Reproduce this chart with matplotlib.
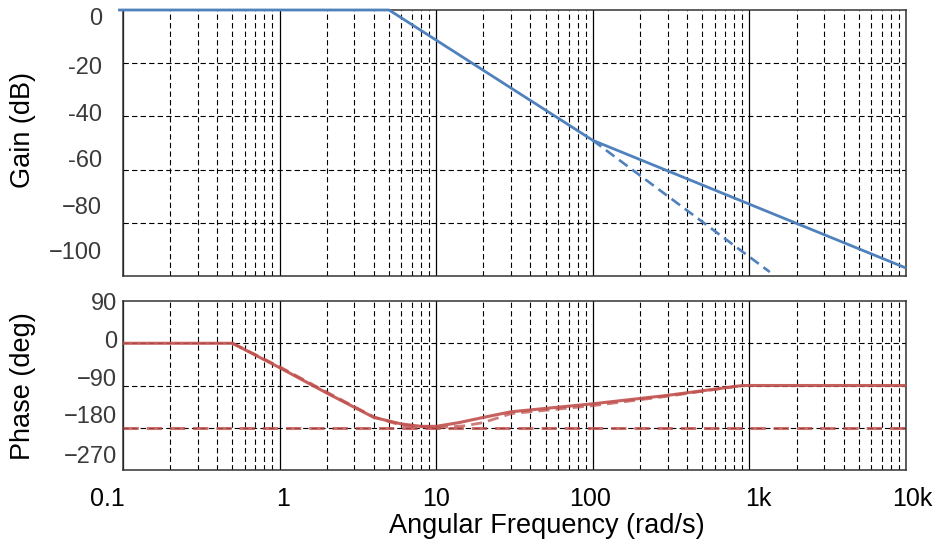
import matplotlib
matplotlib.use("Agg")
import matplotlib.pyplot as plt
from matplotlib.ticker import LogLocator, FixedLocator, NullFormatter
from matplotlib.transforms import ScaledTranslation

plt.rcParams['font.family'] = ['Liberation Sans', 'DejaVu Sans']

# === data ===
gain_w = [0.093, 5, 100, 1000, 10000]
gain_db = [0, 0, -49, -73, -97]

gain_asym_w = [100, 1350]
gain_asym_db = [-49, -98.5]

phase_w = [0.1, 0.5, 1, 2, 4, 6, 8, 10, 14, 20, 30, 100, 300, 900, 10000]
phase_deg = [0, 0, -52, -106, -158, -172, -177, -177, -169, -158, -146, -129, -111, -90, -90]

phase_asym_w = [0.5, 1, 2, 4, 6, 10, 15, 20, 30, 100, 300, 900]
phase_asym_deg = [0, -50, -104, -157, -175, -180, -176, -169, -150, -133, -113, -90]

phase_ref_w = [0.1, 10000]
phase_ref_deg = [-180, -180]

x_ticks = [0.1, 1, 10, 100, 1000, 10000]
x_labels = ["0.1", "1", "10", "100", "1k", "10k"]

gain_grid = [-80, -60, -40, -20]
gain_tick_pos = [-2.6, -20.8, -38.5, -55.8, -73.6, -90.6]
gain_tick_labels = ["0", "-20", "-40", "-60", "\u221280", "\u2212100"]

phase_grid = [-180, -90, 0]
phase_tick_pos = [90, 8.6, -74, -152, -236]
phase_tick_labels = ["90", "0", "\u221290", "\u2212180", "\u2212270"]
# ================================

blue = "#4f81bd"
red = "#c0504d"
dash_grid = (0, (4.8, 2.9))

fig = plt.figure(figsize=(9.36, 5.46), dpi=100)
W, H = 936, 546
ax1 = fig.add_axes([123 / W, 1 - 276 / H, 783 / W, 266 / H])
ax2 = fig.add_axes([123 / W, 1 - 470 / H, 783 / W, 169 / H])


def setup(ax, grid_vals, tick_pos, tick_labels, ypad):
    ax.set_xscale('log')
    ax.set_xlim(0.1, 1e4)
    ax.set_xticks(x_ticks)
    ax.xaxis.set_minor_locator(LogLocator(base=10, subs=range(2, 10)))
    ax.xaxis.set_minor_formatter(NullFormatter())
    ax.set_yticks(tick_pos, labels=tick_labels)
    ax.yaxis.set_minor_locator(FixedLocator(grid_vals))
    ax.grid(True, which='major', axis='x', color='black', ls='-', lw=0.9)
    ax.grid(True, which='minor', axis='both', color='black', ls=dash_grid, lw=0.8)
    ax.grid(False, which='major', axis='y')
    ax.tick_params(which='both', length=0)
    ax.tick_params(axis='y', labelsize=17, labelcolor='#3a3a3a', pad=ypad)
    for s in ax.spines.values():
        s.set_color('#333333')
        s.set_linewidth(1.1)
    ax.set_axisbelow(True)


setup(ax1, gain_grid, gain_tick_pos, gain_tick_labels, 15)
ax1.set_ylim(-100, 0)
ax1.tick_params(axis='x', labelbottom=False)

ax1.plot(gain_w, gain_db, color=blue, lw=2.0, solid_capstyle='butt', clip_on=False, zorder=3)
ax1.plot(gain_asym_w, gain_asym_db, color=blue, lw=1.9, ls=(0, (4, 2.2)), clip_on=False, zorder=3)

setup(ax2, phase_grid, phase_tick_pos, phase_tick_labels, 4.3)
ax2.set_ylim(-270, 90)
ax2.set_xticks(x_ticks, labels=x_labels)
ax2.tick_params(axis='x', labelsize=18, labelcolor='black', pad=12)

# small horizontal nudges of the frequency labels, in pixels
offsets = [-16, 3, 0, -3, 9, 6]
for lab, dx in zip(ax2.get_xticklabels(), offsets):
    lab.set_transform(lab.get_transform() + ScaledTranslation(dx / 100, 0, fig.dpi_scale_trans))

ax2.plot(phase_ref_w, phase_ref_deg, color=red, lw=2.2, alpha=0.8, ls=(0, (5, 2.6)), zorder=3)
ax2.plot(phase_asym_w, phase_asym_deg, color=red, lw=2.0, alpha=0.75, ls=(0, (4, 2.2)), zorder=3)
ax2.plot(phase_w, phase_deg, color=red, lw=2.2, alpha=0.9, zorder=4)

fig.text(23 / W, 1 - 130 / H, "Gain (dB)", rotation=90, ha='center', va='center', fontsize=19.5)
fig.text(23 / W, 1 - 386 / H, "Phase (deg)", rotation=90, ha='center', va='center', fontsize=19.5)
fig.text(547 / W, 1 - 526 / H, "Angular Frequency (rad/s)", ha='center', va='center', fontsize=19.5)

fig.savefig("out.png", dpi=100)
